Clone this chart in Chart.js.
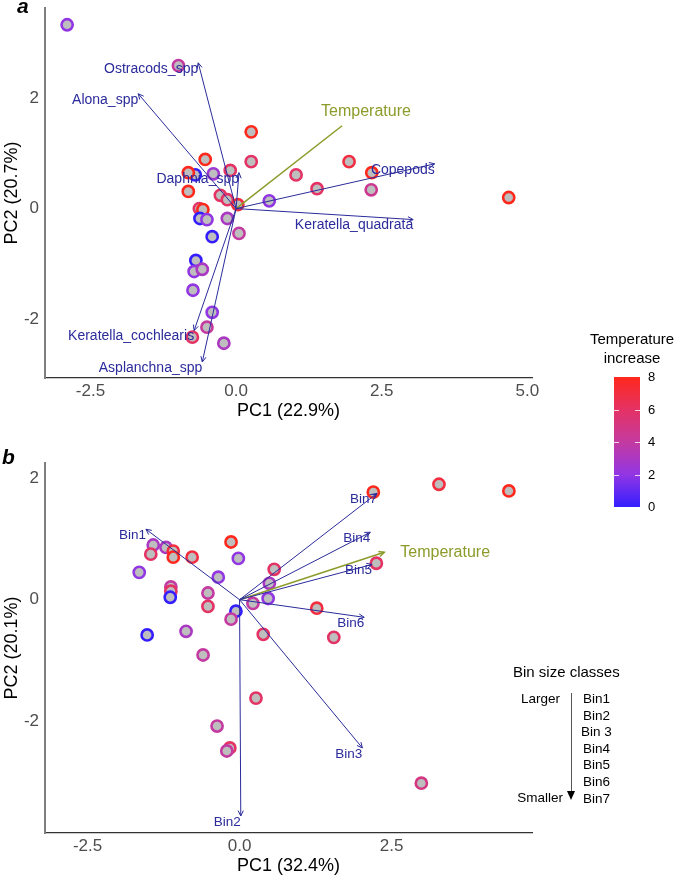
<!DOCTYPE html>
<html>
<head>
<meta charset="utf-8">
<script src="https://cdn.jsdelivr.net/npm/chart.js@4.4.1/dist/chart.umd.min.js"></script>
<style>
  body { margin: 0; width: 675px; height: 877px; position: relative; background: #fff; overflow: hidden;
         font-family: "Liberation Sans", Arial, sans-serif; }
  canvas { position: absolute; left: 0; }
  #cvA { top: 0; }
  #cvB { top: 430px; }
  .tag { position: absolute; font-weight: bold; font-style: italic; font-size: 21px; line-height: 21px; }
  .abs { position: absolute; white-space: nowrap; color: #000; }
  #cbTitle { left: 580px; top: 329px; width: 104px; text-align: center; font-size: 15px; line-height: 19px; }
  #cbBar { position: absolute; left: 614px; top: 377px; width: 26px; height: 130px; }
  .cbTick { font-size: 13px; line-height: 16px; left: 648px; }
  .cbMark { position: absolute; width: 5px; height: 1px; background: rgba(255,255,255,0.8); }
  #binTitle { left: 513px; top: 663px; font-size: 15px; line-height: 18px; }
  .binTxt { font-size: 13.5px; line-height: 16px; }
</style>
</head>
<body>
<canvas id="cvA" width="675" height="422"></canvas>
<canvas id="cvB" width="675" height="447"></canvas>
<div class="tag" style="left:17px; top:-5px;">a</div>
<div class="tag" style="left:2px; top:446px;">b</div>
<div id="cbTitle" class="abs">Temperature<br>increase</div>
<div id="cbBar"></div>
<div id="binTitle" class="abs">Bin size classes</div>
<div class="abs binTxt" style="left:500px; width:60px; text-align:right; top:691px;">Larger</div>
<div class="abs binTxt" style="left:500px; width:63px; text-align:right; top:790px;">Smaller</div>
<div style="position:absolute; left:571px; top:693px; width:1px; height:98px; background:#555;"></div>
<div style="position:absolute; left:567px; top:791px; width:0; height:0; border-left:4px solid transparent; border-right:4px solid transparent; border-top:9px solid #000;"></div>
<script>
// ---- panel a: zooplankton taxa ----
const pc1A  = [-2.90, -0.99, 0.26, -0.53, 0.26, -0.70, -0.82, -0.39, -0.10, 1.03, 1.39, -0.82,
               -0.27, -0.15, 0.03, 0.57, -0.63, -0.57, -0.62, -0.50, -0.15, -0.41, 0.05, -0.69,
               -0.72, -0.58, -0.74, -0.41, -0.50, -0.75, -0.21, 1.94, 2.33, 2.32, 4.68];
const pc2A  = [3.33, 2.59, 1.39, 0.89, 0.85, 0.61, 0.65, 0.63, 0.69, 0.61, 0.36, 0.31,
               0.24, 0.16, 0.07, 0.14, 0.00, -0.02, -0.18, -0.20, -0.18, -0.51, -0.45, -0.94,
               -1.14, -1.10, -1.48, -1.88, -2.15, -2.33, -2.44, 0.85, 0.65, 0.34, 0.20];
const tempA = [2, 4, 8, 8, 6, 0, 8, 2.5, 6, 6, 6, 8,
               6, 6, 7, 2, 6, 8, 0, 2, 3, 0, 4, 0,
               2, 3, 2, 2, 4, 6, 3, 7, 8, 4.5, 8];
const taxaNames = ['Ostracods_spp', 'Alona_spp', 'Daphnia_spp', 'Copepods',
                   'Keratella_quadrata', 'Keratella_cochlearis', 'Asplanchna_spp'];
const taxaX = [-0.65, -1.68, 0.05, 3.41, 3.04, -0.72, -0.58];
const taxaY = [2.64, 2.08, 0.65, 0.81, -0.20, -2.21, -2.78];
const tempVecA = [1.82, 1.50];

// ---- panel b: size classes ----
const pc1B  = [-1.42, -1.46, -1.21, -1.09, -1.09, -0.78, -0.14, -0.02, -1.65, -0.35, 0.57, 0.49,
               -1.13, -1.13, -1.14, -0.52, -0.52, 0.22, 0.47, -0.06, -0.14, 1.27, 1.55, -1.52,
               -0.88, 0.39, -0.60, 0.27, -0.37, -0.16, -0.21, 2.20, 3.28, 4.43, 2.25, 2.99];
const pc2B  = [0.90, 0.75, 0.86, 0.80, 0.70, 0.70, 0.95, 0.68, 0.45, 0.37, 0.50, 0.27,
               0.21, 0.14, 0.04, 0.11, -0.11, -0.06, 0.02, -0.19, -0.32, -0.14, -0.62, -0.58,
               -0.52, -0.57, -0.91, -1.62, -2.08, -2.44, -2.49, 1.77, 1.90, 1.79, 0.60, -3.02];
const tempB = [3, 6, 3, 7, 8, 7, 8, 2, 2, 2, 6, 3,
               4, 6, 0, 4, 6, 4, 2, 0, 4, 7, 6, 0,
               3, 6, 4, 6, 4, 6, 4, 8, 7, 8, 6, 5];
const binNames = ['Bin1', 'Bin2', 'Bin3', 'Bin4', 'Bin5', 'Bin6', 'Bin7'];
const binX = [-1.54, 0.02, 2.02, 2.15, 2.18, 2.05, 2.26];
const binY = [1.16, -3.56, -2.44, 1.11, 0.58, -0.29, 1.75];
const tempVecB = [2.38, 0.78];
const binLegend = ['Bin1', 'Bin2', 'Bin 3', 'Bin4', 'Bin5', 'Bin6', 'Bin7'];

// ---- ticks ----
const xTicksA = [-2.5, 0, 2.5, 5];
const yTicksA = [-2, 0, 2];
const xTicksB = [-2.5, 0, 2.5];
const yTicksB = [-2, 0, 2];
const legendTicks = [0, 2, 4, 6, 8];

// colour ramp for temperature increase
const rampStops = [[0, [52, 30, 255]], [2, [146, 54, 228]], [4, [196, 58, 160]],
                   [6, [228, 50, 100]], [8, [255, 40, 28]]];
function tempColor(t) {
  for (let i = 1; i < rampStops.length; i++) {
    if (t <= rampStops[i][0]) {
      const [t0, c0] = rampStops[i - 1], [t1, c1] = rampStops[i];
      const f = (t - t0) / (t1 - t0);
      const c = c0.map((v, k) => Math.round(v + (c1[k] - v) * f));
      return `rgb(${c[0]},${c[1]},${c[2]})`;
    }
  }
  return 'rgb(255,40,28)';
}

const NAVY = '#2b2b9c';
const OLIVE = '#8c9b2a';
const FONT = '"Liberation Sans", Arial, sans-serif';

// arrowheads + labels for the loading vectors
const arrowPlugin = {
  id: 'arrowHeads',
  afterDatasetsDraw(chart) {
    const ctx = chart.ctx;
    chart.data.datasets.forEach((ds, i) => {
      if (!ds.arrow) return;
      const pts = chart.getDatasetMeta(i).data;
      const a = pts[0], b = pts[1];
      const ang = Math.atan2(b.y - a.y, b.x - a.x);
      ctx.save();
      ctx.strokeStyle = ds.borderColor;
      ctx.lineWidth = ds.borderWidth;
      if (ds.arrow.head) {
        const L = 6, w = 0.45;
        ctx.beginPath();
        ctx.moveTo(b.x - L * Math.cos(ang - w), b.y - L * Math.sin(ang - w));
        ctx.lineTo(b.x, b.y);
        ctx.lineTo(b.x - L * Math.cos(ang + w), b.y - L * Math.sin(ang + w));
        ctx.stroke();
      }
      ctx.fillStyle = ds.arrow.color;
      ctx.font = ds.arrow.font;
      ctx.textAlign = ds.arrow.align;
      ctx.textBaseline = 'middle';
      ctx.fillText(ds.label, b.x + ds.arrow.dx, b.y + ds.arrow.dy);
      ctx.restore();
    });
  }
};

function vector(label, x, y, color, width, arrow) {
  return {
    label: label,
    data: [{x: 0, y: 0}, {x: x, y: y}],
    showLine: true,
    borderColor: color,
    borderWidth: width,
    pointRadius: 0,
    fill: false,
    arrow: arrow
  };
}

function biplot(id, cfg) {
  const datasets = [];
  cfg.names.forEach((n, i) => {
    datasets.push(vector(n, cfg.vx[i], cfg.vy[i], NAVY, 1,
      {head: true, color: NAVY, font: `${cfg.labelSize}px ${FONT}`, align: 'right', dx: 0, dy: 6}));
  });
  datasets.push(vector('Temperature', cfg.tv[0], cfg.tv[1], OLIVE, 1.5, cfg.tempLabel));
  datasets.push({
    label: 'sites',
    data: cfg.px.map((x, i) => ({x: x, y: cfg.py[i]})),
    showLine: false,
    pointRadius: 5.6,
    pointBorderWidth: 2.6,
    pointBackgroundColor: '#bebebe',
    pointBorderColor: cfg.temp.map(tempColor)
  });

  return new Chart(document.getElementById(id), {
    type: 'scatter',
    data: {datasets: datasets},
    plugins: [arrowPlugin],
    options: {
      responsive: false,
      animation: false,
      events: [],
      layout: {padding: {top: cfg.padTop, right: 143, left: 0, bottom: 0}},
      plugins: {legend: {display: false}, tooltip: {enabled: false}},
      scales: {
        x: {
          type: 'linear', min: cfg.xmin, max: cfg.xmax,
          grid: {display: false, drawTicks: false},
          border: {display: true, color: '#333', width: 1.3},
          ticks: {font: {family: FONT, size: 17}, color: '#4d4d4d', padding: 3,
                  autoSkip: false, maxRotation: 0, callback: v => v.toFixed(1)},
          afterBuildTicks: s => { s.ticks = cfg.xTicks.map(v => ({value: v})); },
          afterFit: s => { s.height = 44; s.paddingLeft = 0; s.paddingRight = 0; },
          title: {display: true, text: cfg.xTitle, color: '#000', padding: 0,
                  font: {family: FONT, size: 18}}
        },
        y: {
          type: 'linear', min: cfg.ymin, max: cfg.ymax,
          grid: {display: false, drawTicks: false},
          border: {display: true, color: '#7f7f7f', width: 2},
          ticks: {font: {family: FONT, size: 17}, color: '#4d4d4d', padding: 6,
                  autoSkip: false, callback: v => String(v)},
          afterBuildTicks: s => { s.ticks = cfg.yTicks.map(v => ({value: v})); },
          afterFit: s => { s.width = 45; s.paddingTop = 0; s.paddingBottom = 0; },
          title: {display: true, text: cfg.yTitle, color: '#000', padding: {top: 1, bottom: 0},
                  font: {family: FONT, size: 18}}
        }
      }
    }
  });
}

biplot('cvA', {
  px: pc1A, py: pc2A, temp: tempA,
  names: taxaNames, vx: taxaX, vy: taxaY, tv: tempVecA, labelSize: 14,
  tempLabel: {head: false, color: OLIVE, font: `16px ${FONT}`, align: 'left', dx: -21, dy: -14},
  xmin: -3.28, xmax: 5.08, ymin: -3.07, ymax: 3.63,
  xTicks: xTicksA, yTicks: yTicksA, padTop: 7,
  xTitle: 'PC1 (22.9%)', yTitle: 'PC2 (20.7%)'
});

biplot('cvB', {
  px: pc1B, py: pc2B, temp: tempB,
  names: binNames, vx: binX, vy: binY, tv: tempVecB, labelSize: 13.5,
  tempLabel: {head: true, color: OLIVE, font: `16px ${FONT}`, align: 'left', dx: 16, dy: 0},
  xmin: -3.2, xmax: 4.81, ymin: -3.84, ymax: 2.25,
  xTicks: xTicksB, yTicks: yTicksB, padTop: 33,
  xTitle: 'PC1 (32.4%)', yTitle: 'PC2 (20.1%)'
});

// colour bar legend
const bar = document.getElementById('cbBar');
const tMax = legendTicks[legendTicks.length - 1];
bar.style.background = 'linear-gradient(to top, ' +
  rampStops.map(s => `${tempColor(s[0])} ${s[0] / tMax * 100}%`).join(', ') + ')';
legendTicks.forEach(v => {
  const y = 507 - v / tMax * 130;
  const lab = document.createElement('div');
  lab.className = 'abs cbTick';
  lab.style.top = (y - 8) + 'px';
  lab.textContent = v;
  document.body.appendChild(lab);
  if (v > 0 && v < tMax) {
    [614, 635].forEach(x => {
      const m = document.createElement('div');
      m.className = 'cbMark';
      m.style.left = x + 'px';
      m.style.top = Math.round(y) + 'px';
      document.body.appendChild(m);
    });
  }
});

// bin size class legend
binLegend.forEach((n, i) => {
  const d = document.createElement('div');
  d.className = 'abs binTxt';
  d.style.left = (n.includes(' ') ? 581 : 583) + 'px';
  d.style.top = (691 + i * 16.6) + 'px';
  d.textContent = n;
  document.body.appendChild(d);
});
</script>
</body>
</html>
